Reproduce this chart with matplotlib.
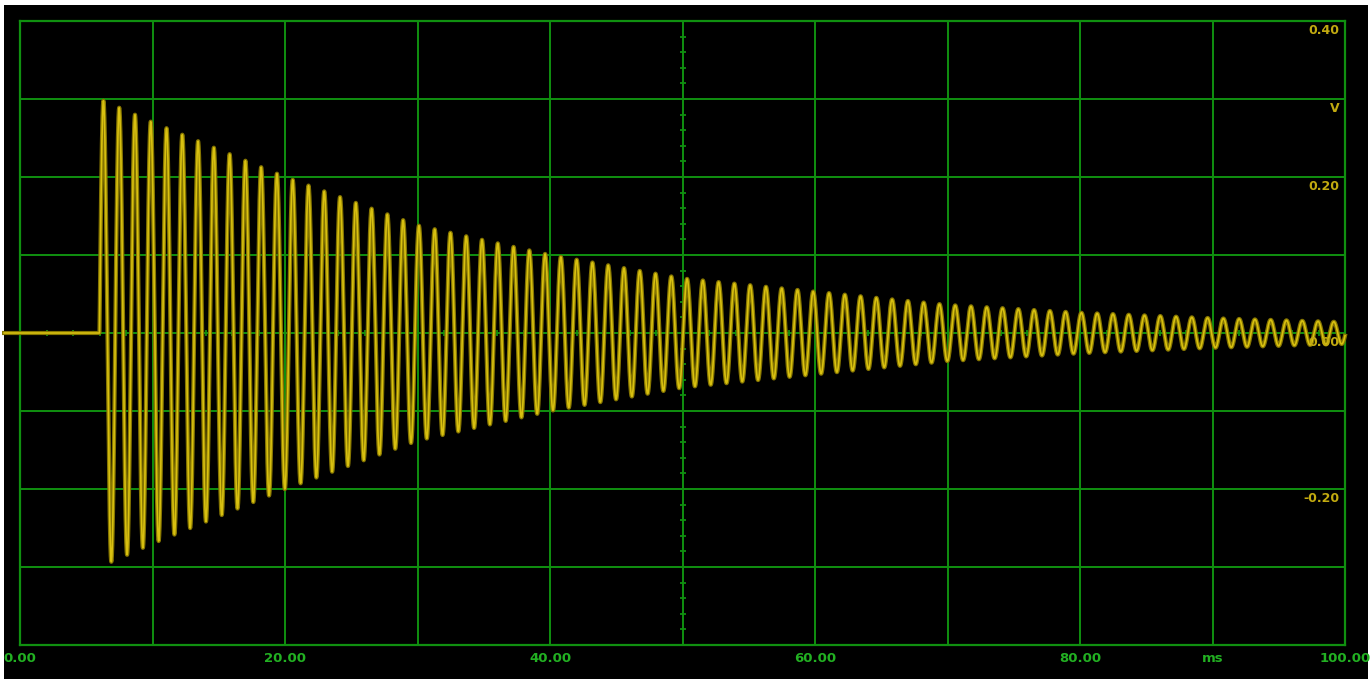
import matplotlib
matplotlib.use("Agg")
import matplotlib.pyplot as plt
import numpy as np

# envelope of the decaying trace (ms, V)
env_t = [6.0, 10, 20, 30, 40, 50, 60, 70, 80, 90, 100]
env_v = [0.30, 0.27, 0.20, 0.138, 0.10, 0.070, 0.053, 0.036, 0.026, 0.019, 0.014]
onset_ms = 6.0
freq_per_ms = 0.84  # ~1.19 ms period

x_ticks = [0, 20, 40, 60, 80, 100]
x_labels = ["0.00", "20.00", "40.00", "60.00", "80.00", "100.00"]
y_marks = [0.40, 0.30, 0.20, 0.00, -0.20]
y_labels = ["0.40", "V", "0.20", "0.00", "-0.20"]

GRID = "#109010"
TXT_G = "#22b022"
TXT_Y = "#c2aa10"

t = np.linspace(-1.2, 100, 24000)
env = np.interp(t, env_t, env_v)
sig = np.where(t >= onset_ms, env * np.sin(2 * np.pi * freq_per_ms * (t - onset_ms)), 0.0)

fig = plt.figure(figsize=(13.71, 6.79), dpi=100, facecolor="white")
bg = fig.add_axes([4 / 1371, 0, 1364 / 1371, 674 / 679])
bg.set_facecolor("black")
bg.set_xticks([])
bg.set_yticks([])
for s in bg.spines.values():
    s.set_visible(False)

ax = fig.add_axes([20 / 1371, 1 - 645 / 679, 1325 / 1371, 624 / 679])
ax.set_facecolor("black")
ax.set_xlim(0, 100)
ax.set_ylim(-0.4, 0.4)
ax.set_xticks([])
ax.set_yticks([])
for s in ax.spines.values():
    s.set_color(GRID)
    s.set_linewidth(1.6)

for xv in np.arange(10, 100, 10):
    ax.axvline(xv, color=GRID, lw=1.4, zorder=1)
for yv in np.arange(-0.3, 0.35, 0.1):
    ax.axhline(yv, color=GRID, lw=1.4, zorder=1)

# small ticks on the centre cross
yt = np.arange(-0.38, 0.39, 0.02)
ax.plot(np.full_like(yt, 50), yt, ls="none", marker="_", ms=5, mew=1.3, color=GRID, zorder=1)
xt = np.arange(2, 100, 2)
ax.plot(xt, np.zeros_like(xt), ls="none", marker="|", ms=4, mew=1.3, color=GRID, zorder=1)

ax.plot(t, sig, color="#857500", lw=3.0, zorder=3, clip_on=False)
ax.plot(t, sig, color="#d8c010", lw=1.2, zorder=4, clip_on=False)

for xv, lab in zip(x_ticks, x_labels):
    ax.text(xv, -0.021, lab, transform=ax.get_xaxis_transform(), ha="center", va="center",
            color=TXT_G, fontsize=9.5, fontweight="bold", clip_on=False)
ax.text(90, -0.021, "ms", transform=ax.get_xaxis_transform(), ha="center", va="center",
        color=TXT_G, fontsize=9.5, fontweight="bold", clip_on=False)

for yv, lab in zip(y_marks, y_labels):
    ax.text(99.6, yv - 0.0125, lab, ha="right", va="center", color=TXT_Y,
            fontsize=9, fontweight="bold", zorder=5)

fig.savefig("out.png", dpi=100, facecolor=fig.get_facecolor())
